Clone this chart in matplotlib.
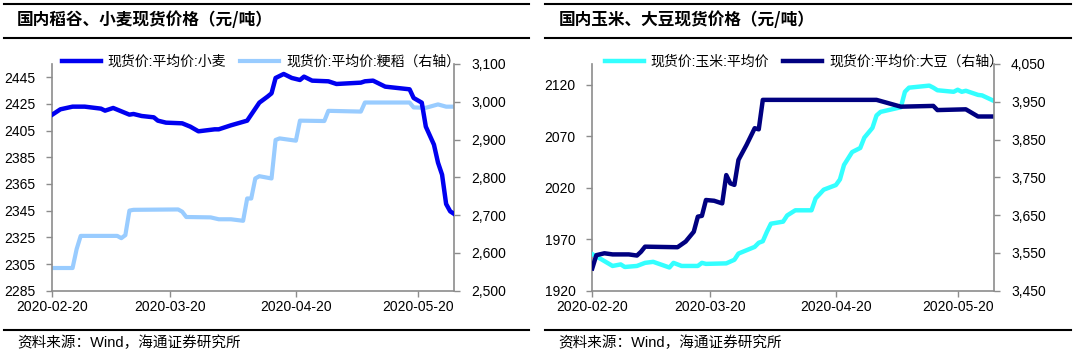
import matplotlib
matplotlib.use('Agg')
import matplotlib.pyplot as plt
import matplotlib.dates as mdates
from matplotlib.lines import Line2D
from matplotlib.ticker import FuncFormatter
import pandas as pd

plt.rcParams['font.family'] = ['Liberation Sans', 'Noto Sans CJK SC']

# --- data ---
wheat_dates = ['2020-02-20', '2020-02-22', '2020-02-25', '2020-02-28', '2020-03-03', '2020-03-04',
               '2020-03-06', '2020-03-10', '2020-03-11', '2020-03-13', '2020-03-16', '2020-03-17',
               '2020-03-19', '2020-03-23', '2020-03-25', '2020-03-27', '2020-03-31', '2020-04-01',
               '2020-04-04', '2020-04-08', '2020-04-09', '2020-04-11', '2020-04-13', '2020-04-14',
               '2020-04-15', '2020-04-16', '2020-04-17', '2020-04-19', '2020-04-21', '2020-04-22',
               '2020-04-24', '2020-04-28', '2020-04-30', '2020-05-06', '2020-05-07', '2020-05-09',
               '2020-05-10', '2020-05-12', '2020-05-15', '2020-05-18', '2020-05-19', '2020-05-21',
               '2020-05-22', '2020-05-24', '2020-05-25', '2020-05-26', '2020-05-27', '2020-05-28',
               '2020-05-29']
wheat = [2417, 2421, 2423, 2423, 2421.5, 2420, 2422, 2417, 2417.5, 2416, 2415, 2412.5, 2411,
         2410.5, 2408, 2404.5, 2406, 2406, 2409, 2412.5, 2417, 2426, 2430.5, 2433, 2444.5, 2446,
         2447.5, 2444.5, 2443, 2445.5, 2442.5, 2442, 2440, 2441, 2442, 2442.5, 2441, 2438, 2437,
         2436, 2429.5, 2426, 2408, 2394.5, 2381, 2372, 2350, 2344.5, 2342.5]

rice_dates = ['2020-02-20', '2020-02-25', '2020-02-26', '2020-02-27', '2020-03-07', '2020-03-08',
              '2020-03-09', '2020-03-10', '2020-03-11', '2020-03-22', '2020-03-23', '2020-03-24',
              '2020-03-30', '2020-04-01', '2020-04-04', '2020-04-07', '2020-04-08', '2020-04-09',
              '2020-04-10', '2020-04-11', '2020-04-14', '2020-04-15', '2020-04-16', '2020-04-20',
              '2020-04-21', '2020-04-27', '2020-04-28', '2020-05-06', '2020-05-07', '2020-05-18',
              '2020-05-19', '2020-05-22', '2020-05-25', '2020-05-27', '2020-05-29']
rice = [2560, 2560, 2610, 2645, 2645, 2639, 2647, 2712, 2714, 2715, 2709, 2695, 2694, 2689, 2689,
        2685, 2744, 2744, 2797, 2803, 2797, 2899, 2903, 2897, 2950, 2949, 2976, 2974, 2998, 2998,
        2985, 2984, 2993, 2987, 2987]

corn_dates = ['2020-02-20', '2020-02-22', '2020-02-25', '2020-02-27', '2020-02-28', '2020-03-02',
              '2020-03-04', '2020-03-06', '2020-03-10', '2020-03-11', '2020-03-13', '2020-03-17',
              '2020-03-18', '2020-03-19', '2020-03-24', '2020-03-26', '2020-03-27', '2020-03-31',
              '2020-04-01', '2020-04-02', '2020-04-03', '2020-04-04', '2020-04-07', '2020-04-08',
              '2020-04-10', '2020-04-14', '2020-04-15', '2020-04-17', '2020-04-20', '2020-04-21',
              '2020-04-22', '2020-04-24', '2020-04-26', '2020-04-27', '2020-04-29', '2020-04-30',
              '2020-05-01', '2020-05-06', '2020-05-07', '2020-05-08', '2020-05-13', '2020-05-14',
              '2020-05-15', '2020-05-19', '2020-05-20', '2020-05-21', '2020-05-22', '2020-05-25',
              '2020-05-26', '2020-05-29']
corn = [1955.5, 1951, 1944, 1945.5, 1943, 1944, 1947, 1948, 1942.5, 1947, 1944, 1944, 1947, 1946,
        1946.5, 1950, 1956, 1962.5, 1966.5, 1968, 1977, 1985, 1987, 1993, 1998, 1998, 2009.5, 2018,
        2022.5, 2028, 2042, 2054.5, 2058.5, 2068.5, 2078, 2090, 2093.5, 2098, 2113, 2117, 2119,
        2117, 2114.5, 2113, 2115, 2113, 2114, 2110, 2109.5, 2104]

soy_dates = ['2020-02-20', '2020-02-21', '2020-02-23', '2020-02-25', '2020-02-29', '2020-03-02',
             '2020-03-03', '2020-03-04', '2020-03-12', '2020-03-14', '2020-03-16', '2020-03-17',
             '2020-03-18', '2020-03-19', '2020-03-21', '2020-03-23', '2020-03-24', '2020-03-25',
             '2020-03-26', '2020-03-27', '2020-03-29', '2020-03-31', '2020-04-01', '2020-04-02',
             '2020-04-30', '2020-05-03', '2020-05-06', '2020-05-14', '2020-05-15', '2020-05-22',
             '2020-05-25', '2020-05-29']
soy = [3509, 3544, 3549, 3546, 3546, 3543, 3553, 3566.5, 3565, 3580, 3606, 3646, 3648, 3690, 3688,
       3681, 3756, 3734, 3730, 3796, 3836, 3880, 3877, 3955, 3955, 3946, 3937, 3939, 3928, 3930,
       3911, 3911]

x_ticks = ['2020-02-20', '2020-03-20', '2020-04-20', '2020-05-20']
x_range = ['2020-02-20', '2020-05-29']

GRAY = '#8c8c8c'

fig = plt.figure(figsize=(10.8, 3.59), dpi=100)


def setup(ax, ax2, ylim, yticks, ylim2, yticks2):
    for s in ['top', 'right']:
        ax.spines[s].set_visible(False)
    for s in ['top', 'left', 'bottom']:
        ax2.spines[s].set_visible(False)
    for s in ['left', 'bottom']:
        ax.spines[s].set_color(GRAY)
        ax.spines[s].set_linewidth(1.2)
    ax2.spines['right'].set_color(GRAY)
    ax2.spines['right'].set_linewidth(1.2)
    ax.set_xlim(pd.to_datetime(x_range))
    ax.set_xticks(pd.to_datetime(x_ticks))
    ax.xaxis.set_major_formatter(mdates.DateFormatter('%Y-%m-%d'))
    ax.set_ylim(ylim)
    ax.set_yticks(yticks)
    ax2.set_ylim(ylim2)
    ax2.set_yticks(yticks2)
    ax2.yaxis.set_major_formatter(FuncFormatter(lambda v, p: '{:,.0f}'.format(v)))
    ax.tick_params(direction='out', length=4, width=1, color=GRAY, labelsize=10, pad=3)
    ax.tick_params(axis='y', pad=8)
    ax2.tick_params(direction='out', length=4, width=1, color=GRAY, labelsize=10, pad=8)


def frame(x0, x1, title):
    for y in [1 - 3.5 / 359, 1 - 38.3 / 359, 1 - 330 / 359]:
        fig.add_artist(Line2D([x0, x1], [y, y], color='black', lw=1.5))
    fig.text(x0 + 13 / 1080, 1 - 20 / 359, title, fontsize=12, fontweight='bold',
             family=['Noto Sans CJK SC'], va='center', ha='left')
    fig.text(x0 + 13 / 1080, 1 - 343 / 359, '资料来源：Wind，海通证券研究所', fontsize=10.5,
             va='center', ha='left')


# ---- left chart: rice / wheat ----
ax1 = fig.add_axes([0.0484, 0.1903, 0.3722, 0.6315])
ax1b = ax1.twinx()
l1, = ax1.plot(pd.to_datetime(wheat_dates), wheat, color='#0000f0', lw=3.2,
               label='现货价:平均价:小麦', zorder=3)
l2, = ax1b.plot(pd.to_datetime(rice_dates), rice, color='#99ccff', lw=3.0,
                label='现货价:平均价:粳稻（右轴）', zorder=2)
ax1.set_zorder(ax1b.get_zorder() + 1)
ax1.patch.set_visible(False)
setup(ax1, ax1b, (2285, 2455), range(2285, 2446, 20), (2500, 3100), range(2500, 3101, 100))
fig.legend([l1, l2], [l1.get_label(), l2.get_label()], loc='center',
           bbox_to_anchor=(261 / 1080, 1 - 61.5 / 359), ncol=2, frameon=False, fontsize=10,
           handlelength=2.8, handletextpad=0.5, columnspacing=1.0)
frame(4 / 1080, 529 / 1080, '国内稻谷、小麦现货价格（元/吨）')

# ---- right chart: corn / soybean ----
ax2 = fig.add_axes([0.5484, 0.1903, 0.3722, 0.6315])
ax2b = ax2.twinx()
l3, = ax2.plot(pd.to_datetime(corn_dates), corn, color='#33ffff', lw=3.2,
               label='现货价:玉米:平均价', zorder=3)
l4, = ax2b.plot(pd.to_datetime(soy_dates), soy, color='#000080', lw=3.2,
                label='现货价:平均价:大豆（右轴）', zorder=2)
setup(ax2, ax2b, (1920, 2140), range(1920, 2121, 50), (3450, 4050), range(3450, 4051, 100))
fig.legend([l3, l4], [l3.get_label(), l4.get_label()], loc='center',
           bbox_to_anchor=(804 / 1080, 1 - 61.5 / 359), ncol=2, frameon=False, fontsize=10,
           handlelength=2.8, handletextpad=0.5, columnspacing=1.0)
frame(545.5 / 1080, 1071 / 1080, '国内玉米、大豆现货价格（元/吨）')

fig.savefig('out.png', dpi=100)
